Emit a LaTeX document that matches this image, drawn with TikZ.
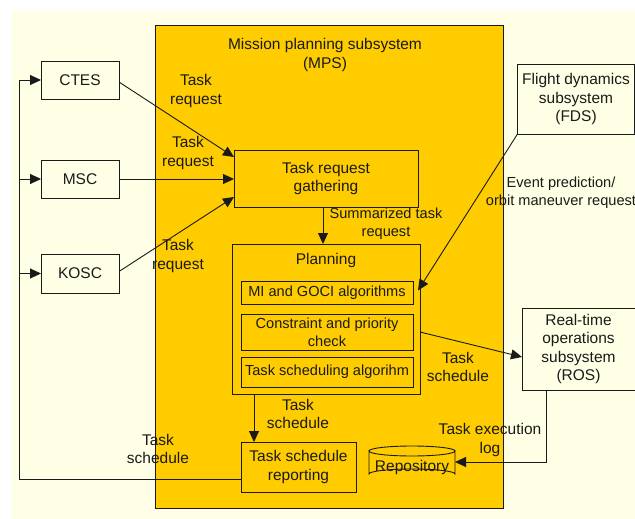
\documentclass[tikz,border=0pt]{standalone}
\usepackage{fontspec}
\setmainfont{Liberation Sans}
\usetikzlibrary{arrows.meta,calc}
\definecolor{bgy}{HTML}{FFFFE5}
\definecolor{gold}{HTML}{FFCC00}
\definecolor{ink}{HTML}{1A1A1A}
\begin{document}
\begin{tikzpicture}[x=1pt,y=-1pt,
  every node/.style={font=\fontsize{15.5}{18.5}\selectfont, inner sep=0pt, outer sep=0pt, align=center, text=ink},
  ebox/.style={draw=ink, line width=0.9pt, fill=bgy},
  ibox/.style={draw=ink, line width=0.9pt, fill=gold},
  small/.style={font=\fontsize{14.6}{18}\selectfont},
  conn/.style={draw=ink, line width=0.9pt},
  arr/.style={conn, -{Triangle[length=11pt,width=10pt]}}]
\useasboundingbox (0,0) rectangle (635,519);
\fill[bgy] (12,11) rectangle (635,519);
% main subsystem
\node[ibox, minimum width=348, minimum height=483] (mps) at (329,266.5) {};
\node (mpst) at (325,55) {Mission planning subsystem\\(MPS)};
% external boxes
\node[ebox, minimum width=78, minimum height=38] (ctes) at (80,80) {CTES};
\node[ebox, minimum width=78, minimum height=38] (msc) at (80,179) {MSC};
\node[ebox, minimum width=78, minimum height=39] (kosc) at (80,273.5) {KOSC};
\node[ebox, minimum width=117, minimum height=70] (fds) at (576,99) {Flight dynamics\\subsystem\\(FDS)};
\node[ebox, minimum width=113, minimum height=82] (ros) at (578.5,349) {Real-time\\operations\\subsystem\\(ROS)};
% internal boxes
\node[ibox, minimum width=184, minimum height=57] (gath) at (326,178.5) {Task request\\gathering};
\node[ibox, minimum width=188, minimum height=150] (plan) at (326,319) {};
\node (plant) at (326,260) {Planning};
\node[ibox, small, minimum width=172, minimum height=23] (mi) at (327,292.5) {MI and GOCI algorithms};
\node[ibox, small, minimum width=172, minimum height=36] (cons) at (327,332) {Constraint and priority\\check};
\node[ibox, small, minimum width=172, minimum height=30] (tsa) at (327,372) {Task scheduling algorihm};
\node[ibox, minimum width=115, minimum height=50] (rep) at (298.5,467) {Task schedule\\reporting};
% repository cylinder
\path[fill=gold, draw=ink, line width=0.9pt] (369,451) -- (369,474)
  arc[start angle=180, end angle=360, x radius=43, y radius=5] -- (455,451)
  arc[start angle=0, end angle=180, x radius=43, y radius=5] -- cycle;
\draw[conn] (369,451) arc[start angle=180, end angle=360, x radius=43, y radius=5];
\node[minimum width=86, minimum height=33] (repo) at (412,462) {};
\node (repot) at (412,467) {Repository};
% labels
\node (l1) at (196,91) {Task\\request};
\node (l2) at (188,153) {Task\\request};
\node (l3) at (178,256) {Task\\request};
\node[small] (l4) at (386,224) {Summarized task\\request};
\node (l5) at (298,414) {Task\\schedule};
\node (l6) at (158,449) {Task\\schedule};
\node (l7) at (458,367) {Task\\schedule};
\node (l8) at (490,440) {Task execution\\log};
\node[small] (l9) at (561,193) {Event prediction/\\orbit maneuver request};
% connectors
\coordinate (lt) at (19,80);
\coordinate (lb) at (19,479);
\draw[conn] ([yshift=-12pt]rep.west) -- (lb) -- (lt);
\draw[arr] (lt) -- (ctes.west);
\draw[arr] (lb |- msc.west) -- (msc.west);
\draw[arr] (lb |- kosc.west) -- (kosc.west);
\draw[arr] ([yshift=-2pt]ctes.east) -- ([yshift=-7pt]gath.north west);
\draw[arr] (msc.east) -- (msc.east -| gath.west);
\draw[arr] ([yshift=2pt]kosc.east) -- ([yshift=10pt]gath.south west);
\draw[arr] ([xshift=-3pt]gath.south) -- ([xshift=-3pt]plan.north);
\coordinate (ps) at ([xshift=13pt]rep.north west);
\draw[arr] (plan.south -| ps) -- (ps);
\draw[arr] (fds.south west) -- ([xshift=5pt,yshift=2pt]mi.east);
\draw[arr] (plan.east |- cons.east) -- ([yshift=-8pt]ros.west);
\draw[arr] ([xshift=-32pt]ros.south) |- (repo.east);
\end{tikzpicture}
\end{document}
